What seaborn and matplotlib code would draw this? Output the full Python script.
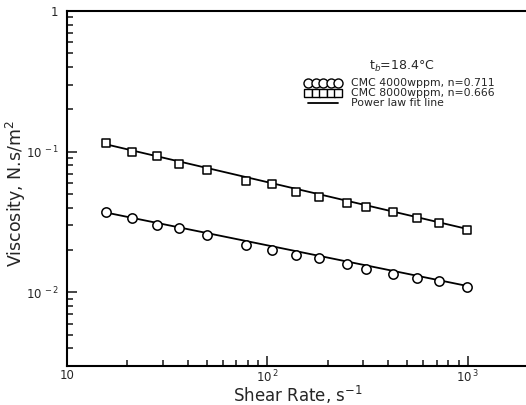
import matplotlib
matplotlib.use("Agg")
import matplotlib.pyplot as plt
from matplotlib.lines import Line2D
from matplotlib.ticker import FixedLocator, FixedFormatter, LogLocator, NullFormatter
import seaborn as sns
import pandas as pd

# ---- data ----
shear_rate = [15.6, 21.2, 28.0, 36.3, 50.1, 77.8, 105.6, 139.4, 181, 250, 312, 423, 558, 719, 997]
visc_4000 = [0.0373, 0.0339, 0.0299, 0.0287, 0.0255, 0.0219, 0.0200, 0.0186, 0.0175,
             0.0158, 0.0146, 0.0135, 0.0127, 0.0120, 0.0110]
visc_8000 = [0.1146, 0.1000, 0.0931, 0.0817, 0.0744, 0.0621, 0.0588, 0.0518, 0.0475,
             0.0434, 0.0405, 0.0373, 0.0339, 0.0309, 0.0277]
fit_x = [15.6, 1000]
fit_4000 = [0.0370, 0.0111]
fit_8000 = [0.1130, 0.0282]

series_labels = ["CMC 4000wppm, n=0.711", "CMC 8000wppm, n=0.666", "Power law fit line"]
x_ticks = [10, 100, 1000]
x_ticklabels = ["10", r"$10^{\,2}$", r"$10^{\,3}$"]
y_ticks = [0.01, 0.1, 1]
y_ticklabels = [r"$10^{\,-2}$", r"$10^{\,-1}$", "1"]
temp_text = r"t$_b$=18.4°C"

df = pd.DataFrame({"x": shear_rate, "v4000": visc_4000, "v8000": visc_8000})
fit_df = pd.DataFrame({"x": fit_x, "f4000": fit_4000, "f8000": fit_8000})

sns.set_style("ticks")
plt.rcParams["font.family"] = ["DejaVu Sans"]
plt.rcParams["mathtext.fontset"] = "dejavusans"

fig = plt.figure(figsize=(5.26, 4.05), dpi=100)
ax = fig.add_axes([67 / 526, 39 / 405, 461 / 526, 355 / 405])

sns.lineplot(data=fit_df, x="x", y="f4000", ax=ax, color="black", lw=1.3)
sns.lineplot(data=fit_df, x="x", y="f8000", ax=ax, color="black", lw=1.3)
sns.scatterplot(data=df, x="x", y="v4000", ax=ax, marker="o", s=45,
                facecolor="white", edgecolor="black", linewidth=1.1, zorder=3)
sns.scatterplot(data=df, x="x", y="v8000", ax=ax, marker="s", s=36,
                facecolor="white", edgecolor="black", linewidth=1.1, zorder=3)

ax.set_xscale("log")
ax.set_yscale("log")
ax.set_xlim(10, 2000)
ax.set_ylim(0.003, 1)

ax.xaxis.set_major_locator(FixedLocator(x_ticks))
ax.xaxis.set_major_formatter(FixedFormatter(x_ticklabels))
ax.yaxis.set_major_locator(FixedLocator(y_ticks))
ax.yaxis.set_major_formatter(FixedFormatter(y_ticklabels))
ax.xaxis.set_minor_locator(LogLocator(base=10, subs=range(2, 10)))
ax.yaxis.set_minor_locator(LogLocator(base=10, subs=range(2, 10)))
ax.xaxis.set_minor_formatter(NullFormatter())
ax.yaxis.set_minor_formatter(NullFormatter())

ax.tick_params(which="both", direction="in", top=False, right=False, width=1.2)
ax.tick_params(which="major", length=7, labelsize=8.5)
ax.tick_params(axis="y", which="major", pad=6)
ax.tick_params(axis="x", which="major", pad=2)
ax.tick_params(which="minor", length=4)
for sp in ax.spines.values():
    sp.set_linewidth(1.5)
    sp.set_color("black")

ax.set_xlabel(r"Shear Rate, s$^{-1}$", fontsize=12)
ax.set_ylabel(r"Viscosity, N.s/m$^2$", fontsize=12.5)
ax.xaxis.label.set_va("center")
ax.xaxis.set_label_coords(0.5, -0.082)
ax.yaxis.label.set_va("center")
ax.yaxis.set_label_coords(-0.11, 0.487)

ax.text(0.727, 0.845, temp_text, transform=ax.transAxes, ha="center", va="center", fontsize=9)

handles = [
    Line2D([], [], marker="o", ls="none", markerfacecolor="white", markeredgecolor="black",
           markersize=6.5, markeredgewidth=1.0),
    Line2D([], [], marker="s", ls="none", markerfacecolor="white", markeredgecolor="black",
           markersize=6.0, markeredgewidth=1.0),
    Line2D([], [], color="black", lw=1.3),
]
ax.legend(handles, series_labels, loc="upper left", bbox_to_anchor=(0.516, 0.81),
          frameon=False, numpoints=5, fontsize=7.8, handlelength=3.4, handletextpad=0.9,
          labelspacing=0.0, borderpad=0, borderaxespad=0)

fig.savefig("out.png", dpi=100)
